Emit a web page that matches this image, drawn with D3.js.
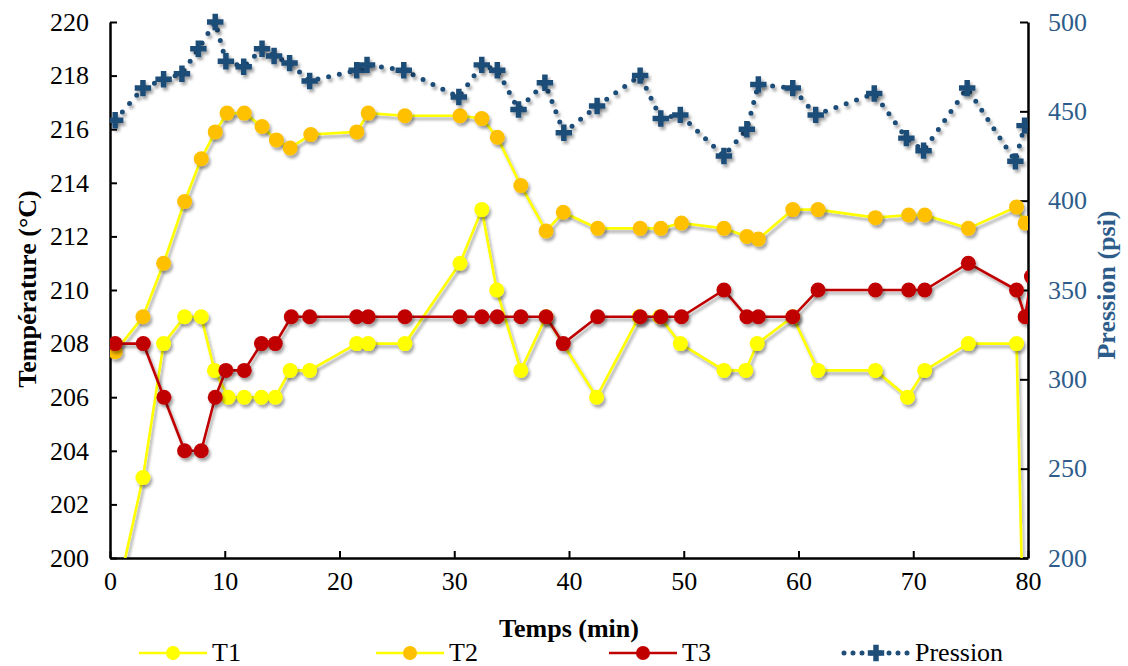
<!DOCTYPE html>
<html>
<head>
<meta charset="utf-8">
<script src="https://cdn.jsdelivr.net/npm/d3@7"></script>
<style>
  body { margin: 0; background: #fff; }
  text { font-family: "Liberation Serif", "Times New Roman", serif; }
</style>
</head>
<body>
<script>
// time (min) for each series
var t1_time = [0.3, 2.87, 4.67, 6.5, 7.95, 9.1, 10.3, 11.7, 13.2, 14.4, 15.7, 17.4, 21.5, 22.5, 25.7, 30.5, 32.4, 33.7, 35.8, 38.0, 42.4, 46.1, 47.9, 49.7, 53.5, 55.4, 56.4, 59.5, 61.7, 66.7, 69.5, 71.0, 74.8, 79.0, 79.6];
var t1_vals = [198, 203, 208, 209, 209, 207, 206, 206, 206, 206, 207, 207, 208, 208, 208, 211, 213, 210, 207, 209, 206, 209, 209, 208, 207, 207, 208, 209, 207, 207, 206, 207, 208, 208, 197];

var t2_time = [0.45, 2.87, 4.67, 6.5, 7.95, 9.17, 10.2, 11.7, 13.25, 14.5, 15.7, 17.5, 21.5, 22.5, 25.7, 30.5, 32.4, 33.75, 35.8, 38.0, 39.5, 42.5, 46.2, 48.0, 49.8, 53.5, 55.5, 56.5, 59.5, 61.7, 66.7, 69.6, 71.0, 74.8, 79.0, 79.75];
var t2_vals = [207.7, 209, 211, 213.3, 214.9, 215.9, 216.6, 216.6, 216.1, 215.6, 215.3, 215.8, 215.9, 216.6, 216.5, 216.5, 216.4, 215.7, 213.9, 212.2, 212.9, 212.3, 212.3, 212.3, 212.5, 212.3, 212.0, 211.9, 213.0, 213.0, 212.7, 212.8, 212.8, 212.3, 213.1, 212.5];

var t3_time = [0.45, 2.9, 4.7, 6.5, 7.95, 9.17, 10.1, 11.7, 13.2, 14.4, 15.8, 17.4, 21.5, 22.5, 25.7, 30.5, 32.4, 33.75, 35.8, 38.0, 39.5, 42.5, 46.2, 48.0, 49.8, 53.5, 55.5, 56.5, 59.5, 61.7, 66.7, 69.6, 71.0, 74.8, 79.0, 79.75, 80.3];
var t3_vals = [208, 208, 206, 204, 204, 206, 207, 207, 208, 208, 209, 209, 209, 209, 209, 209, 209, 209, 209, 209, 208, 209, 209, 209, 209, 210, 209, 209, 209, 210, 210, 210, 210, 211, 210, 209, 210.5];

var p_time = [0.45, 2.87, 4.67, 6.27, 7.7, 9.17, 10.1, 11.65, 13.25, 14.3, 15.65, 17.4, 21.5, 22.4, 25.6, 30.4, 32.4, 33.75, 35.6, 37.9, 39.55, 42.45, 46.2, 48.0, 49.7, 53.5, 55.5, 56.5, 59.5, 61.5, 66.6, 69.4, 70.9, 74.7, 78.9, 79.7];
var p_vals = [445, 463, 468, 471, 485, 500, 478, 475, 485, 481, 477, 467, 473, 476, 473, 458, 476, 473, 451, 466, 438, 453, 470, 446, 448, 425, 440, 465, 463, 448, 460, 435, 428, 463, 422, 442];

var temp_ticks = [200, 202, 204, 206, 208, 210, 212, 214, 216, 218, 220];
var pres_ticks = [200, 250, 300, 350, 400, 450, 500];
var time_ticks = [0, 10, 20, 30, 40, 50, 60, 70, 80];

function plot_it() {
	var width = 1128, height = 666;
	var pad_left = 110, pad_right = 1028, pad_top = 22, pad_bottom = 558;
	var fs = 26;

	var svg = d3.select('body').append('svg').attr('width', width).attr('height', height);

	var defs = svg.append('defs');
	defs.append('clipPath').attr('id', 'plot_clip').append('rect')
		.attr('x', pad_left).attr('y', pad_top - 12).attr('width', pad_right - pad_left).attr('height', pad_bottom - pad_top + 12);
	var f = defs.append('filter').attr('id', 'shadow').attr('x', '-50%').attr('y', '-50%').attr('width', '200%').attr('height', '200%');
	f.append('feDropShadow').attr('dx', 2).attr('dy', 3).attr('stdDeviation', 1.6)
		.attr('flood-color', '#000').attr('flood-opacity', 0.35);

	var x = d3.scaleLinear().domain([0, 80]).range([pad_left, pad_right]);
	var y = d3.scaleLinear().domain([200, 220]).range([pad_bottom, pad_top]);
	var y2 = d3.scaleLinear().domain([200, 500]).range([pad_bottom, pad_top]);

	// axes (ticks pointing inside)
	var xAxis = svg.append('g').attr('transform', 'translate(0,' + pad_bottom + ')')
		.call(d3.axisBottom(x).tickValues(time_ticks).tickSizeInner(-7).tickSizeOuter(0).tickPadding(14));
	var yAxis = svg.append('g').attr('transform', 'translate(' + pad_left + ',0)')
		.call(d3.axisLeft(y).tickValues(temp_ticks).tickSizeInner(-7).tickSizeOuter(0).tickPadding(21));
	var y2Axis = svg.append('g').attr('transform', 'translate(' + pad_right + ',0)')
		.call(d3.axisRight(y2).tickValues(pres_ticks).tickSizeInner(-8).tickSizeOuter(0).tickPadding(20));

	[xAxis, yAxis, y2Axis].forEach(a => {
		a.attr('font-family', null);
		a.select('.domain').attr('stroke', '#000').attr('stroke-width', 2.5);
		a.selectAll('.tick line').attr('stroke', '#000').attr('stroke-width', 2);
		a.selectAll('.tick text').attr('font-size', fs).attr('fill', '#000')
			.style('font-family', '"Liberation Serif", "Times New Roman", serif');
	});
	y2Axis.selectAll('.tick text').attr('fill', '#2E5C8A');

	// axis titles
	svg.append('text').attr('x', 569).attr('y', 637).attr('text-anchor', 'middle')
		.attr('font-size', fs).attr('font-weight', 'bold').text('Temps (min)');
	svg.append('text').attr('transform', 'translate(36,289) rotate(-90)')
		.attr('text-anchor', 'middle').attr('font-size', fs).attr('font-weight', 'bold').text('Température (°C)');
	svg.append('text').attr('transform', 'translate(1115,285) rotate(-90)')
		.attr('text-anchor', 'middle').attr('font-size', fs).attr('font-weight', 'bold').attr('fill', '#2E5C8A').text('Pression (psi)');

	var series = [
		{ name: 'T1', time: t1_time, vals: t1_vals, scale: y, line: '#FFFF00', fill: '#FFFF00', type: 'circle' },
		{ name: 'T2', time: t2_time, vals: t2_vals, scale: y, line: '#FFFF00', fill: '#FFC000', type: 'circle' },
		{ name: 'T3', time: t3_time, vals: t3_vals, scale: y, line: '#C00000', fill: '#C00000', type: 'circle' },
		{ name: 'Pression', time: p_time, vals: p_vals, scale: y2, line: '#1F4E79', fill: '#1F4E79', type: 'cross' }
	];

	var plot = svg.append('g').attr('clip-path', 'url(#plot_clip)');

	series.forEach(s => {
		var pts = s.time.map((t, i) => [t, s.vals[i]]);
		var line = d3.line().x(d => x(d[0])).y(d => s.scale(d[1]));
		var path = plot.append('path').datum(pts).attr('d', line).attr('fill', 'none')
			.attr('stroke', s.line).attr('filter', 'url(#shadow)');
		if (s.type == 'cross') {
			path.attr('stroke-width', 5).attr('stroke-dasharray', '0,11').attr('stroke-linecap', 'round');
			plot.selectAll(null).data(pts).enter().append('path')
				.attr('d', d3.symbol().type(d3.symbolCross).size(150))
				.attr('transform', d => 'translate(' + x(d[0]) + ',' + s.scale(d[1]) + ')')
				.attr('fill', s.fill).attr('filter', 'url(#shadow)');
		} else {
			path.attr('stroke-width', 2.6);
			plot.selectAll(null).data(pts).enter().append('circle')
				.attr('cx', d => x(d[0])).attr('cy', d => s.scale(d[1])).attr('r', 7.5)
				.attr('fill', s.fill).attr('filter', 'url(#shadow)');
		}
	});

	// legend
	var legend_x = [139, 376, 609, 842];
	var legend_y = 653;
	series.forEach((s, i) => {
		var g = svg.append('g').attr('transform', 'translate(' + legend_x[i] + ',' + legend_y + ')');
		if (s.type == 'cross') {
			g.append('line').attr('x1', 2).attr('x2', 68).attr('stroke', s.line).attr('stroke-width', 5)
				.attr('stroke-dasharray', '0,9').attr('stroke-linecap', 'round');
			g.append('path').attr('d', d3.symbol().type(d3.symbolCross).size(150)).attr('transform', 'translate(34,0)')
				.attr('fill', s.fill);
		} else {
			g.append('line').attr('x1', 0).attr('x2', 68).attr('stroke', s.line).attr('stroke-width', 2.6);
			g.append('circle').attr('cx', 34).attr('r', 7).attr('fill', s.fill);
		}
		g.append('text').attr('x', 73).attr('y', 8).attr('font-size', fs).text(s.name);
	});
}
plot_it();
</script>
</body>
</html>
